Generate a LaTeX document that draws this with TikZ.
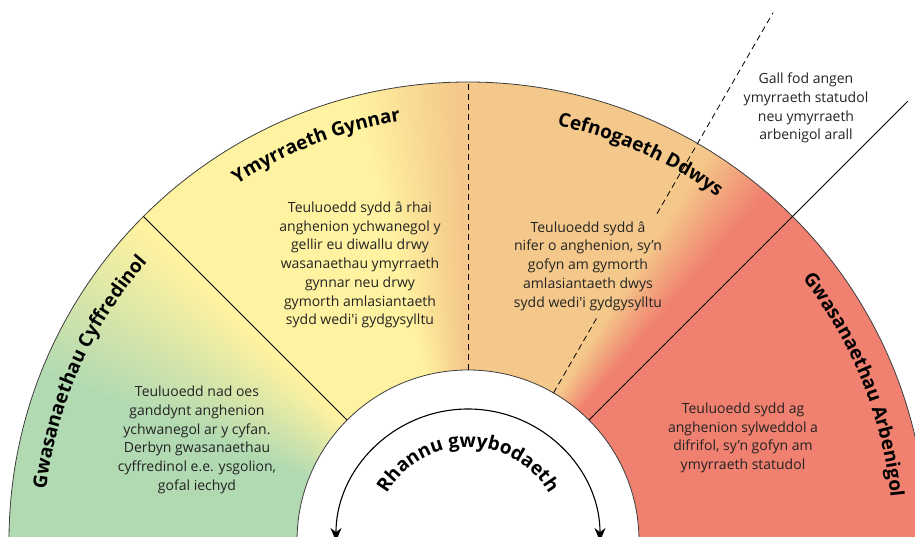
\documentclass[tikz,border=0pt]{standalone}
\usepackage{fontspec}
\setmainfont{Open Sans}
\usepackage{tikz}
\usetikzlibrary{arrows.meta,decorations.text}
\definecolor{ringgreen}{RGB}{178,218,178}
\definecolor{ringyellow}{RGB}{255,242,160}
\definecolor{ringorange}{RGB}{244,200,138}
\definecolor{ringred}{RGB}{240,128,112}
\definecolor{rimgrey}{RGB}{60,60,60}
\definecolor{inkgrey}{RGB}{35,35,35}
\newcommand{\ringbody}{\fontsize{14}{18.7}\selectfont}
\newcommand{\ringtitle}{\fontsize{19}{21}\selectfont\bfseries}
\tikzset{
  bodytext/.style={align=center, font=\ringbody, text=inkgrey, inner sep=0pt},
  divider/.style={line width=0.9pt, black},
  dashdivider/.style={line width=0.8pt, black, dash pattern=on 6pt off 4pt},
  curvedtitle/.style={decorate, decoration={text along path, text align=center, text={|\ringtitle|#1}}}
}

\begin{document}
\begin{tikzpicture}[x=1pt, y=1pt]
  \useasboundingbox (-468,5) rectangle (447,541);
  \clip (-468,5) rectangle (447,541);

  % coloured ring, blended in thin slices
  \foreach \from/\to/\ca/\cb in {-4/49/ringred/ringred, 49/58/ringred/ringorange,
      58/91/ringorange/ringorange, 91/104/ringorange/ringyellow,
      104/136/ringyellow/ringyellow, 136/158/ringyellow/ringgreen,
      158/184/ringgreen/ringgreen}{
    \pgfmathsetmacro\nxt{\from+0.5}
    \foreach \a in {\from,\nxt,...,\to}{
      \pgfmathsetmacro\p{100*(\a-\from)/(\to-\from)}
      \pgfmathsetmacro\b{\a+0.7}
      \fill[\cb!\p!\ca] (\a:171) -- (\a:459) -- (\b:459) -- (\b:171) -- cycle;
    }
  }

  \fill[white] (0,0) circle[radius=171];
  \draw[rimgrey, line width=0.8pt] (0,0) circle[radius=171];
  \draw[rimgrey, line width=0.8pt] (0,0) circle[radius=459];

  \draw[divider] (135:171) -- (135:459);
  \draw[dashdivider] (90:171) -- (90:459);
  \draw[dashdivider] (60:171) -- (60:258);
  \draw[dashdivider] (60:378) -- (60:610);
  \draw[divider] (45:171) -- (45:622);

  \path[curvedtitle={Gwasanaethau Cyffredinol}] (186:425) arc[start angle=186, end angle=126, radius=425];
  \path[curvedtitle={Ymyrraeth Gynnar}] (141:425) arc[start angle=141, end angle=81, radius=425];
  \path[curvedtitle={Cefnogaeth Ddwys}] (96:425) arc[start angle=96, end angle=36, radius=425];
  \path[curvedtitle={Gwasanaethau Arbenigol}] (52:425) arc[start angle=52, end angle=-8, radius=425];

  \node[bodytext] (universal) at (-271,101) {Teuluoedd nad oes\\ganddynt anghenion\\ychwanegol ar y cyfan.\\Derbyn gwasanaethau\\cyffredinol e.e. ysgolion,\\gofal iechyd};
  \node[bodytext] (early) at (-108,276) {Teuluoedd sydd â rhai\\anghenion ychwanegol y\\gellir eu diwallu drwy\\wasanaethau ymyrraeth\\gynnar neu drwy\\gymorth amlasiantaeth\\sydd wedi\textquotesingle i gydgysylltu};
  \node[bodytext] (intensive) at (120,275) {Teuluoedd sydd â\\nifer o anghenion, sy’n\\gofyn am gymorth\\amlasiantaeth dwys\\sydd wedi\textquotesingle i gydgysylltu};
  \node[bodytext] (specialist) at (275,103) {Teuluoedd sydd ag\\anghenion sylweddol a\\difrifol, sy’n gofyn am\\ymyrraeth statudol};
  \node[bodytext] (note) at (338,433) {Gall fod angen\\ymyrraeth statudol\\neu ymyrraeth\\arbenigol arall};

  % sharing arrow in the middle
  \path[curvedtitle={Rhannu gwybodaeth}] (180:94) arc[start angle=180, end angle=0, radius=94];
  \draw[{Stealth[length=13pt,width=11pt]}-{Stealth[length=13pt,width=11pt]}, line width=1.1pt]
    (180:132) arc[start angle=180, end angle=0, radius=132];
\end{tikzpicture}
\end{document}
